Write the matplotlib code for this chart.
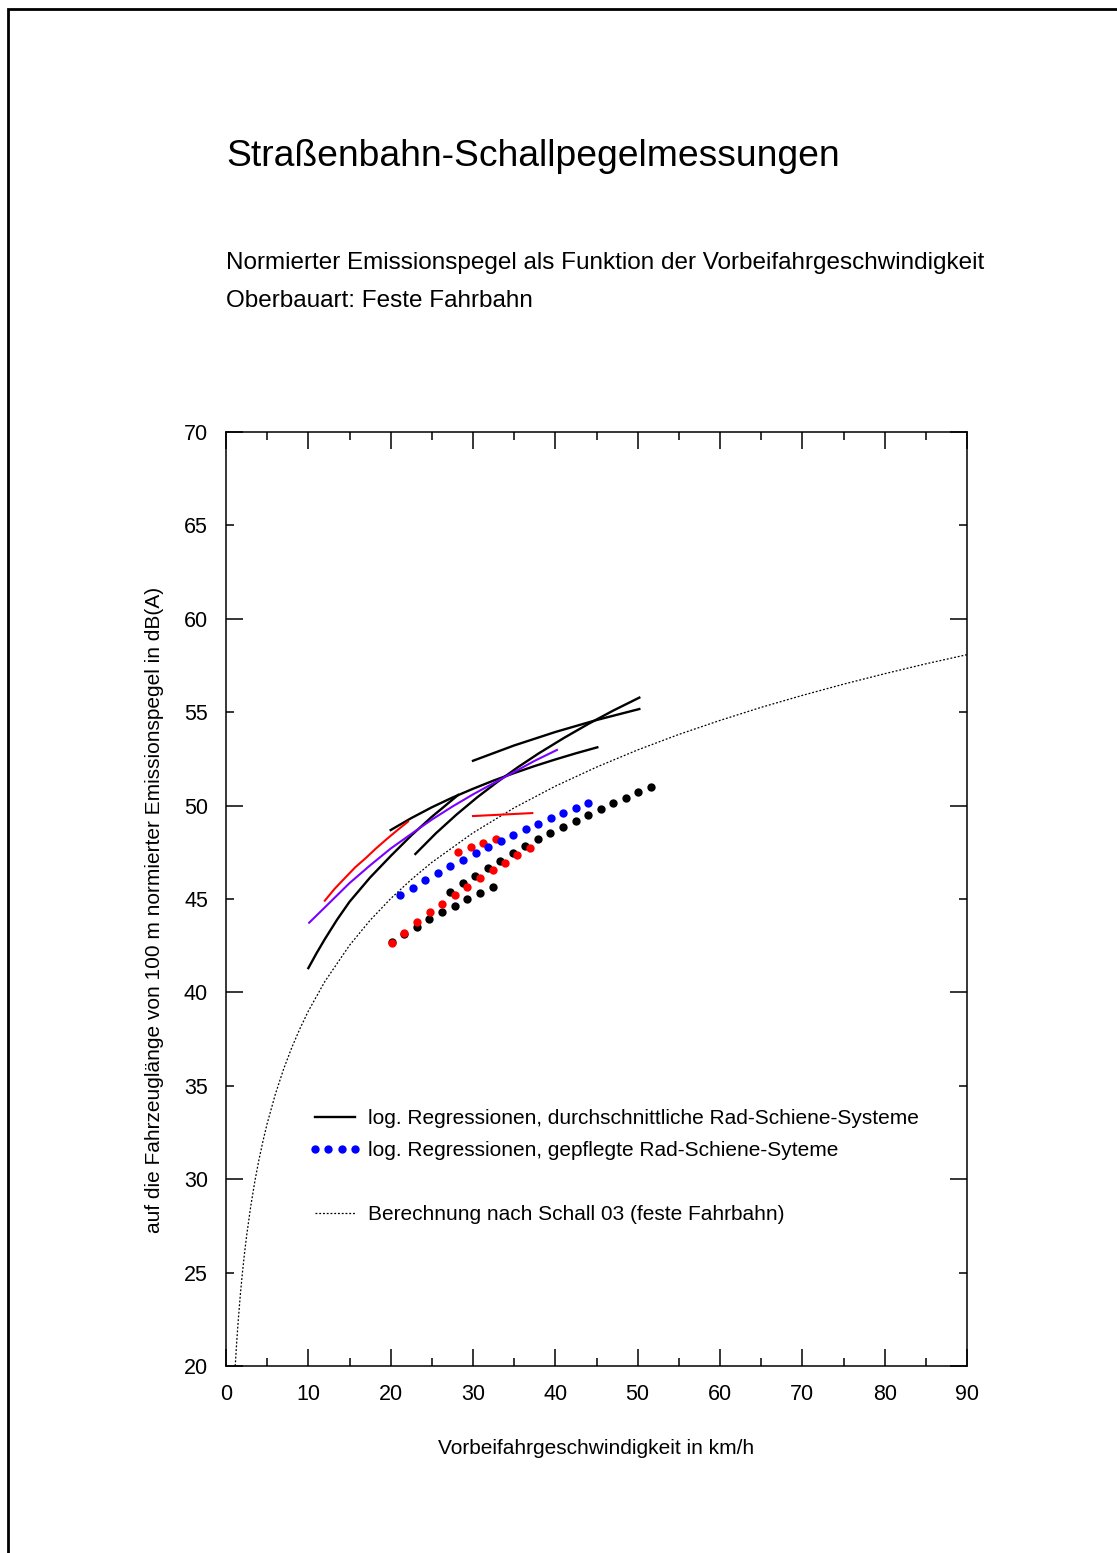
import matplotlib.pyplot as plt
from matplotlib.lines import Line2D
from matplotlib.patches import Rectangle
from matplotlib.ticker import MultipleLocator, FormatStrFormatter

plt.rcParams['font.family'] = ['Liberation Sans', 'DejaVu Sans']

# log. Regressionen (durchgezogen)
reg1_v = [10, 11, 12, 13.5, 15, 17.5, 20, 22.5, 25, 28.2]
reg1_L = [41.3, 42.1, 42.85, 43.9, 44.85, 46.15, 47.3, 48.4, 49.4, 50.57]
reg2_v = [23, 25.5, 28, 30.5, 33, 35.5, 38, 41, 44, 47, 50.2]
reg2_L = [47.41, 48.52, 49.52, 50.44, 51.28, 52.07, 52.8, 53.61, 54.37, 55.08, 55.78]
reg3_v = [20, 22.5, 25, 27.5, 30, 32.5, 35, 37.5, 40, 42.5, 45.1]
reg3_L = [48.69, 49.33, 49.91, 50.43, 50.9, 51.34, 51.74, 52.12, 52.47, 52.8, 53.12]
reg4_v = [30, 35, 40, 45, 50.2]
reg4_L = [52.4, 53.22, 53.94, 54.58, 55.17]
red1_v = [12, 13.2, 14.5, 15.7, 17, 18.2, 19.5, 20.8, 22.1]
red1_L = [44.91, 45.55, 46.15, 46.7, 47.2, 47.7, 48.2, 48.68, 49.14]
red2_v = [30, 37.2]
red2_L = [49.44, 49.6]
purple_v = [10.1, 12, 13.5, 15, 17.5, 20, 23.2, 25, 27.5, 30, 32.5, 35, 37.5, 40.2]
purple_L = [43.73, 44.55, 45.2, 45.85, 46.8, 47.7, 48.7, 49.25, 49.95, 50.6, 51.2,
            51.8, 52.4, 52.98]

# gepflegte Systeme (gepunktet)
blk_low_v = [20.16, 21.66, 23.17, 24.69, 26.24, 27.78, 29.31, 30.82, 32.4]
blk_low_L = [42.71, 43.1, 43.52, 43.91, 44.3, 44.63, 44.98, 45.34, 45.66]
blk_long_v = [27.21, 28.75, 30.28, 31.79, 33.32, 34.82, 36.36, 37.86, 39.39,
              40.93, 42.48, 43.97, 45.51, 47.04, 48.55, 50.08, 51.62]
blk_long_L = [45.39, 45.84, 46.25, 46.64, 47.05, 47.44, 47.84, 48.19, 48.52,
              48.86, 49.19, 49.51, 49.82, 50.12, 50.42, 50.71, 51.01]
red_long_v = [20.16, 21.66, 23.24, 24.78, 26.24, 27.78, 29.31, 30.82, 32.39,
              33.89, 35.38, 36.92]
red_long_L = [42.66, 43.17, 43.77, 44.29, 44.75, 45.22, 45.66, 46.11, 46.55,
              46.94, 47.34, 47.75]
red_short_v = [28.22, 29.72, 31.25, 32.79]
red_short_L = [47.53, 47.77, 47.98, 48.19]
blue_v = [21.14, 22.67, 24.21, 25.71, 27.25, 28.79, 30.33, 31.82, 33.36, 34.9,
          36.38, 37.93, 39.45, 40.95, 42.5, 43.99]
blue_L = [45.21, 45.6, 46.0, 46.39, 46.75, 47.1, 47.46, 47.79, 48.13, 48.43,
          48.75, 49.02, 49.34, 49.6, 49.87, 50.16]

# Schall 03 (feste Fahrbahn)
schall_v = [1.12, 1.3, 1.5, 1.75, 2, 2.25, 2.5, 3, 3.5, 4, 4.5, 5, 6, 7, 8, 9, 10,
            12, 15, 17.5, 20, 22.5, 25, 30, 35, 40, 45, 50, 55, 60, 65, 70, 75,
            80, 85, 90]
schall_L = [20.0, 21.28, 22.52, 23.86, 25.02, 26.04, 26.96, 28.54, 29.88, 31.04,
            32.06, 32.98, 34.56, 35.9, 37.06, 38.08, 39.0, 40.58, 42.52, 43.86,
            45.02, 46.04, 46.96, 48.54, 49.88, 51.04, 52.06, 52.98, 53.81, 54.56,
            55.26, 55.9, 56.5, 57.06, 57.59, 58.08]

legend_labels = ["log. Regressionen, durchschnittliche Rad-Schiene-Systeme",
                 "log. Regressionen, gepflegte Rad-Schiene-Syteme",
                 " ",
                 "Berechnung nach Schall 03 (feste Fahrbahn)"]

fig = plt.figure(figsize=(11.17, 15.53), dpi=100)
ax = fig.add_axes([226/1117, 187/1553, 741/1117, 934/1553])

# Seitenrahmen
fig.patches.append(Rectangle((8/1117, -0.1), 1.2, 1.1 - 9/1553, transform=fig.transFigure,
                             fill=False, lw=2, ec='black'))

dotted = (0, (1.5, 1.5))
ax.plot(schall_v, schall_L, color='black', lw=0.9, ls=dotted)

for v, L in [(reg1_v, reg1_L), (reg2_v, reg2_L), (reg3_v, reg3_L), (reg4_v, reg4_L)]:
    ax.plot(v, L, color='black', lw=1.7)
ax.plot(red1_v, red1_L, color='red', lw=1.5)
ax.plot(red2_v, red2_L, color='red', lw=1.5)
ax.plot(purple_v, purple_L, color='#7b00ff', lw=1.5)

ms = 6
ax.plot(blk_low_v, blk_low_L, 'o', color='black', ms=ms, mew=0)
ax.plot(blk_long_v, blk_long_L, 'o', color='black', ms=ms, mew=0)
ax.plot(red_long_v, red_long_L, 'o', color='red', ms=ms, mew=0)
ax.plot(red_short_v, red_short_L, 'o', color='red', ms=ms, mew=0)
ax.plot(blue_v, blue_L, 'o', color='blue', ms=ms, mew=0)

ax.set_xlim(0, 90)
ax.set_ylim(20, 70)
ax.xaxis.set_major_locator(MultipleLocator(10))
ax.xaxis.set_minor_locator(MultipleLocator(5))
ax.yaxis.set_major_locator(MultipleLocator(10))
ax.yaxis.set_minor_locator(MultipleLocator(5))
ax.yaxis.set_minor_formatter(FormatStrFormatter('%d'))
ax.tick_params(which='both', direction='in', top=True, right=True, width=1.1,
               labelsize=15.5, pad=13)
ax.tick_params(which='major', length=12)
ax.tick_params(which='minor', length=6)
for s in ax.spines.values():
    s.set_linewidth(1.1)

ax.set_xlabel("Vorbeifahrgeschwindigkeit in km/h", fontsize=15)
ax.xaxis.set_label_coords(0.5, -0.078)
ax.set_ylabel("auf die Fahrzeuglänge von 100 m normierter Emissionspegel in dB(A)", fontsize=15)
ax.yaxis.set_label_coords(-0.083, 0.488)

handles = [Line2D([], [], color='black', lw=1.7),
           Line2D([], [], ls='', marker='o', color='blue', ms=6, mew=0),
           Line2D([], [], color='none'),
           Line2D([], [], color='black', lw=0.9, ls=dotted)]
ax.legend(handles, legend_labels, loc='upper left', bbox_to_anchor=(0.111, 0.275),
          frameon=False, fontsize=15, numpoints=4, handlelength=2.55,
          handletextpad=0.3, labelspacing=0.62, borderaxespad=0, borderpad=0)

fig.text(226/1117, 1 - 156/1553, "Straßenbahn-Schallpegelmessungen", fontsize=26.8, va='center')
fig.text(226/1117, 1 - 263/1553, "Normierter Emissionspegel als Funktion der Vorbeifahrgeschwindigkeit",
         fontsize=17.5, va='center')
fig.text(226/1117, 1 - 301/1553, "Oberbauart: Feste Fahrbahn", fontsize=17.5, va='center')

fig.savefig('out.png', dpi=100)
